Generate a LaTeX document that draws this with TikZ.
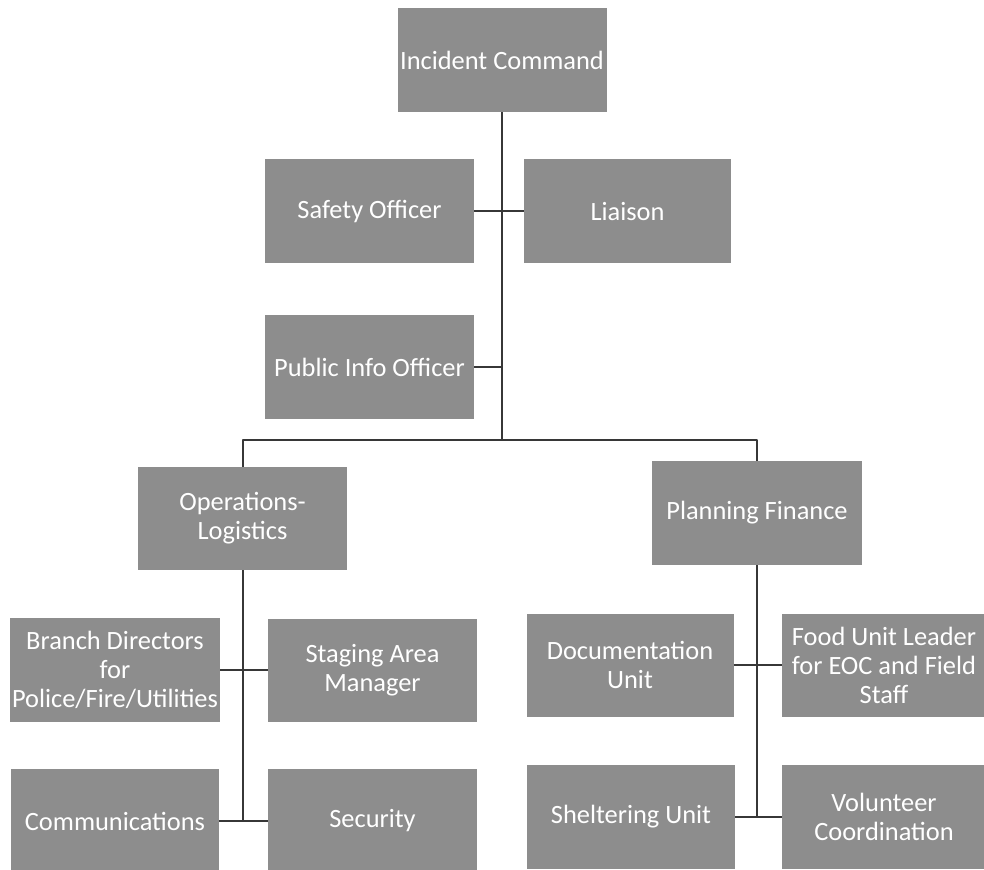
\documentclass[tikz,border=0pt]{standalone}
\usepackage{fontspec}
\setmainfont{Carlito}
\usepackage{tikz}
\usetikzlibrary{calc}
\definecolor{boxgray}{RGB}{141,141,141}
\definecolor{linegray}{RGB}{55,55,55}
\begin{document}
\begin{tikzpicture}[x=0.5pt,y=-0.5pt,line join=round,
    font=\fontsize{13.2}{14.5}\selectfont,
    unit/.style={fill=boxgray,text=white,align=center,inner sep=0pt,
      minimum width=104.5pt,minimum height=52pt},
    link/.style={draw=linegray,line width=1pt}]
  \useasboundingbox (0,0) rectangle (984,870);
  % command staff
  \node[unit] (ic) at (502,60) {Incident Command};
  \node[unit] (safety) at (369.5,211.5) {Safety Officer};
  \node[unit,minimum width=103.5pt] (liaison) at (627.5,211.5) {Liaison};
  \node[unit] (pio) at (369.5,367) {Public Info Officer};
  \coordinate (split) at (502,440);
  \draw[link] (ic.south) -- (split);
  \draw[link] (safety.east) -- (liaison.west);
  \draw[link] (pio.east) -- (pio.east -| split);
  % sections
  \node[unit,minimum height=51.5pt] (ops) at (242.5,518.5) {Operations-\\Logistics};
  \node[unit,minimum width=105pt] (plan) at (757,513) {Planning Finance};
  \draw[link] (ops.north) |- (split) -| (plan.north);
  % operations-logistics units
  \node[unit,minimum width=105pt] (branch) at (115,670) {Branch Directors\\for\\Police/Fire/Utilities};
  \node[unit,minimum height=51.5pt] (staging) at (372.5,670) {Staging Area\\Manager};
  \node[unit,minimum width=104pt] (comm) at (115,821) {Communications};
  \node[unit] (security) at (372.5,821) {Security};
  \draw[link] (ops.south) -- (ops.south |- comm);
  \draw[link] (branch.east) -- (staging.west);
  \draw[link] (comm.east) -- (security.west);
  % planning-finance units
  \node[unit,minimum width=103.5pt,minimum height=51.5pt] (doc) at (630,665) {Documentation\\Unit};
  \node[unit,minimum width=102pt,minimum height=51.5pt] (food) at (884,665) {Food Unit Leader\\for EOC and Field\\Staff};
  \node[unit,minimum width=104pt] (shelter) at (631,817) {Sheltering Unit};
  \node[unit,minimum width=102pt] (volunteer) at (884,817) {Volunteer\\Coordination};
  \draw[link] (plan.south) -- (plan.south |- shelter);
  \draw[link] (doc.east) -- (food.west);
  \draw[link] (shelter.east) -- (volunteer.west);
\end{tikzpicture}
\end{document}
